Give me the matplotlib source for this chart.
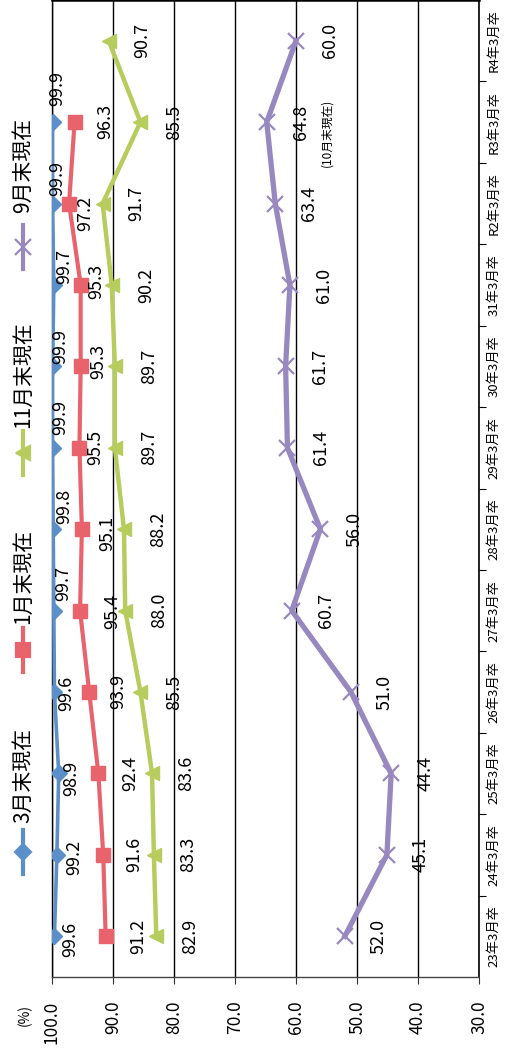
import matplotlib
matplotlib.use('Agg')
import matplotlib.pyplot as plt
from matplotlib.lines import Line2D

plt.rcParams['font.family'] = ['Noto Sans CJK JP', 'DejaVu Sans']

# graduating classes, oldest first
classes = ['23年3月卒', '24年3月卒', '25年3月卒', '26年3月卒', '27年3月卒', '28年3月卒',
           '29年3月卒', '30年3月卒', '31年3月卒', 'R2年3月卒', 'R3年3月卒', 'R4年3月卒']

# job offer rate (%) at each point in time
mar = [99.6, 99.2, 98.9, 99.6, 99.7, 99.8, 99.9, 99.9, 99.7, 99.9, 99.9]
jan = [91.2, 91.6, 92.4, 93.9, 95.4, 95.1, 95.5, 95.3, 95.3, 97.2, 96.3]
nov = [82.9, 83.3, 83.6, 85.5, 88.0, 88.2, 89.7, 89.7, 90.2, 91.7, 85.5, 90.7]
sep = [52.0, 45.1, 44.4, 51.0, 60.7, 56.0, 61.4, 61.7, 61.0, 63.4, 64.8, 60.0]

value_ticks = [100, 90, 80, 70, 60, 50, 40, 30]

# label offsets in pixels (right, down)
mar_dx = [16, 17, 13, 12, 9, 11, 8, 8, 10, 5, 5]
mar_dy = [3, 3, 5, 1, -27, -23, -30, -20, -19, -25, -34]
jan_dx = [33, 31, 32, 29, 32, 25, 16, 18, 16, 16, 31]
jan_dy = [0, 0, 0, -1, 1, 4, 0, -5, -4, 10, -1]

c_mar = '#5b8fc9'
c_jan = '#e8636c'
c_nov = '#b6cc5c'
c_sep = '#9888c0'

fig = plt.figure(figsize=(5.07, 10.51), dpi=100)
ax = fig.add_axes([52 / 507, 74 / 1051, 427 / 507, 977 / 1051])

# the chart is laid out sideways: values run right-to-left, classes bottom-to-top
ax.set_xlim(100, 30)
ax.set_ylim(-0.5, len(classes) - 0.5)

ax.set_xticks(value_ticks)
ax.set_xticklabels(['%.1f' % v for v in value_ticks], rotation=90, fontsize=12.5)
ax.tick_params(axis='x', direction='out', length=5, width=0.8, pad=12, color='#333333')
for lab in ax.get_xticklabels():
    lab.set_va('top')
    lab.set_ha('center')

ax.yaxis.tick_right()
ax.set_yticks(range(len(classes)))
ax.set_yticklabels(classes, rotation=90, fontsize=9.5, va='center', ha='left')
ax.set_yticks([i + 0.5 for i in range(len(classes) - 1)], minor=True)
ax.tick_params(axis='y', which='major', length=0, pad=6)
ax.tick_params(axis='y', which='minor', direction='out', length=5, width=0.8, color='black')

ax.grid(axis='x', color='black', linewidth=1.0)
ax.set_axisbelow(True)

for side in ['top', 'right', 'left']:
    ax.spines[side].set_color('black')
ax.spines['top'].set_linewidth(1.8)
ax.spines['right'].set_linewidth(1.2)
ax.spines['left'].set_linewidth(1.0)
ax.spines['bottom'].set_color('#444444')
ax.spines['bottom'].set_linestyle((0, (3, 1)))
ax.spines['bottom'].set_linewidth(1.0)

y_mar = list(range(len(mar)))
y_jan = list(range(len(jan)))
y_nov = list(range(len(nov)))
y_sep = list(range(len(sep)))

ax.plot(sep, y_sep, color=c_sep, lw=3.8, marker='x', ms=11, mew=1.6, zorder=3)
ax.plot(nov, y_nov, color=c_nov, lw=3.2, marker='<', ms=10.5, zorder=3)
ax.plot(jan, y_jan, color=c_jan, lw=3.0, marker='s', ms=10.5, zorder=4)
ax.plot(mar, y_mar, color=c_mar, lw=2.6, marker='D', ms=8, zorder=5)

lbl = dict(textcoords='offset pixels', rotation=90, ha='center', va='center',
           fontsize=13, color='black', zorder=6)
for v, i, dx, dy in zip(mar, y_mar, mar_dx, mar_dy):
    ax.annotate('%.1f' % v, (v, i), xytext=(dx, -dy), **lbl)
for v, i, dx, dy in zip(jan, y_jan, jan_dx, jan_dy):
    ax.annotate('%.1f' % v, (v, i), xytext=(dx, -dy), **lbl)
for v, i in zip(nov, y_nov):
    ax.annotate('%.1f' % v, (v, i), xytext=(34, 0), **lbl)
for v, i in zip(sep, y_sep):
    ax.annotate('%.1f' % v, (v, i), xytext=(34, 0), **lbl)

# note under the R3 September figure
ax.annotate('(10月末現在)', (sep[10], y_sep[10]), xytext=(60, -11),
            textcoords='offset pixels', rotation=90, ha='center', va='center', fontsize=8.5)

fig.text(25 / 507, 1 - 1015 / 1051, '(%)', rotation=90, ha='center', va='center', fontsize=10)

# legend, drawn sideways down the left edge
lax = fig.add_axes([0, 0, 1, 1], zorder=10)
lax.set_xlim(0, 507)
lax.set_ylim(1051, 0)
lax.axis('off')
lax.patch.set_alpha(0)
legend_items = [
    ('3月末現在', c_mar, 'D', 8, 852, 775),
    ('1月末現在', c_jan, 's', 10.5, 650, 576),
    ('11月末現在', c_nov, '<', 10.5, 453, 375),
    ('9月末現在', c_sep, 'x', 11, 247, 165),
]
for name, col, mk, ms, ym, yt in legend_items:
    lax.add_line(Line2D([23, 23], [ym - 22, ym + 22], color=col, lw=3, marker=None))
    lax.plot([23], [ym], color=col, marker=mk, ms=ms, mew=1.6)
    lax.text(23, yt, name, rotation=90, ha='center', va='center', fontsize=15)

fig.savefig('out.png', dpi=100, facecolor='white')
